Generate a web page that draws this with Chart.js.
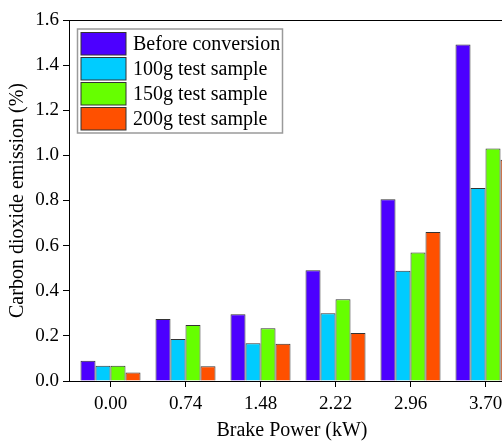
<!DOCTYPE html>
<html>
<head>
<meta charset="utf-8">
<script src="https://cdn.jsdelivr.net/npm/chart.js@4/dist/chart.umd.min.js"></script>
<style>
html, body { margin: 0; padding: 0; overflow: hidden; background: #fff; width: 502px; height: 444px; }
canvas { display: block; }
</style>
</head>
<body>
<canvas id="c" width="515" height="444"></canvas>
<script>
// Brake power categories (kW)
const brakePower = [0.00, 0.74, 1.48, 2.22, 2.96, 3.70];
const tickLabels = ["0.00", "0.74", "1.48", "2.22", "2.96", "3.70"];
const seriesNames = ["Before conversion", "100g test sample", "150g test sample", "200g test sample"];
// Carbon dioxide emission (%)
const beforeConversion = [0.090, 0.275, 0.296, 0.491, 0.805, 1.491];
const sample100g       = [0.068, 0.186, 0.167, 0.300, 0.489, 0.855];
const sample150g       = [0.068, 0.248, 0.234, 0.362, 0.570, 1.031];
const sample200g       = [0.038, 0.065, 0.165, 0.213, 0.660, 0.981];
const yTicks = [0.0, 0.2, 0.4, 0.6, 0.8, 1.0, 1.2, 1.4, 1.6];

const colors = ["#4C00FF", "#00CCFF", "#66FF00", "#FF5000"];
const seriesValues = [beforeConversion, sample100g, sample150g, sample200g];

const FONT = '"Liberation Serif", "Times New Roman", "DejaVu Serif", serif';

const datasets = seriesValues.map((vals, i) => ({
  label: seriesNames[i],
  data: vals.map((v, j) => ({ x: brakePower[j], y: v })),
  backgroundColor: colors[i],
  borderColor: "#333333",
  borderWidth: 1,
  categoryPercentage: 0.8,
  barPercentage: 1.0
}));

const framePlugin = {
  id: "frame",
  afterDraw(chart) {
    const { ctx, chartArea: a } = chart;
    ctx.save();
    ctx.strokeStyle = "#000";
    ctx.lineWidth = 1;
    ctx.beginPath();
    ctx.moveTo(a.left, a.top + 0.5);
    ctx.lineTo(a.right, a.top + 0.5);
    ctx.moveTo(a.right - 0.5, a.top);
    ctx.lineTo(a.right - 0.5, a.bottom);
    ctx.stroke();
    ctx.restore();
  }
};

const legendPlugin = {
  id: "boxLegend",
  afterDraw(chart) {
    const { ctx, chartArea: a } = chart;
    const bx = a.left + 8.5, by = a.top + 9, bw = 205, bh = 104;
    ctx.save();
    ctx.fillStyle = "#fff";
    ctx.fillRect(bx, by, bw, bh);
    ctx.strokeStyle = "#9a9a9a";
    ctx.lineWidth = 1.5;
    ctx.strokeRect(bx, by, bw, bh);
    ctx.font = "20px " + FONT;
    ctx.textBaseline = "middle";
    ctx.textAlign = "left";
    chart.data.datasets.forEach((ds, i) => {
      const sy = by + 3.5 + i * 25;
      ctx.fillStyle = ds.backgroundColor;
      ctx.fillRect(bx + 3.5, sy, 45, 22.5);
      ctx.strokeStyle = "#333";
      ctx.lineWidth = 1;
      ctx.strokeRect(bx + 3.5, sy, 45, 22.5);
      ctx.fillStyle = "#000";
      ctx.fillText(ds.label, bx + 55.5, sy + 12);
    });
    ctx.restore();
  }
};

function draw() {
  new Chart(document.getElementById("c"), {
    type: "bar",
    data: { datasets },
    plugins: [framePlugin, legendPlugin],
    options: {
      responsive: false,
      animation: false,
      devicePixelRatio: 1,
      layout: { padding: { top: 20, right: 0, left: 0, bottom: 0 } },
      plugins: { legend: { display: false }, tooltip: { enabled: false } },
      scales: {
        x: {
          type: "linear",
          offset: false,
          min: -0.4095,
          max: 3.991,
          afterBuildTicks(scale) { scale.ticks = brakePower.map(v => ({ value: v })); },
          afterFit(scale) { scale.height = 63; },
          ticks: {
            callback(value) {
              const i = brakePower.findIndex(b => Math.abs(b - value) < 1e-6);
              return i >= 0 ? tickLabels[i] : "";
            },
            color: "#000",
            font: { family: FONT, size: 19 },
            padding: 6,
            maxRotation: 0,
            autoSkip: false
          },
          grid: { offset: false, drawOnChartArea: false, drawTicks: true, tickLength: 6, color: "#000", tickColor: "#000", tickWidth: 1 },
          border: { display: true, color: "#000", width: 1 },
          title: {
            display: true,
            text: "Brake Power (kW)",
            color: "#000",
            font: { family: FONT, size: 20, lineHeight: 1.2 },
            padding: { top: 0, bottom: 1 }
          }
        },
        y: {
          min: 0,
          max: 1.6,
          afterBuildTicks(scale) { scale.ticks = yTicks.map(v => ({ value: v })); },
          afterFit(scale) { scale.width = 69; },
          ticks: {
            callback(value) { return Number(value).toFixed(1); },
            color: "#000",
            font: { family: FONT, size: 19 },
            padding: 4
          },
          grid: { drawOnChartArea: false, drawTicks: true, tickLength: 6, color: "#000", tickColor: "#000", tickWidth: 1 },
          border: { display: true, color: "#000", width: 1 },
          title: {
            display: true,
            text: "Carbon dioxide emission (%)",
            color: "#000",
            font: { family: FONT, size: 20, lineHeight: 1.2 },
            padding: { top: 6, bottom: 0 }
          }
        }
      }
    }
  });
}

if (document.fonts && document.fonts.load) {
  Promise.all([
    document.fonts.load('20px "Liberation Serif"'),
    document.fonts.load('19px "Liberation Serif"')
  ]).then(draw, draw);
} else {
  draw();
}
</script>
</body>
</html>
